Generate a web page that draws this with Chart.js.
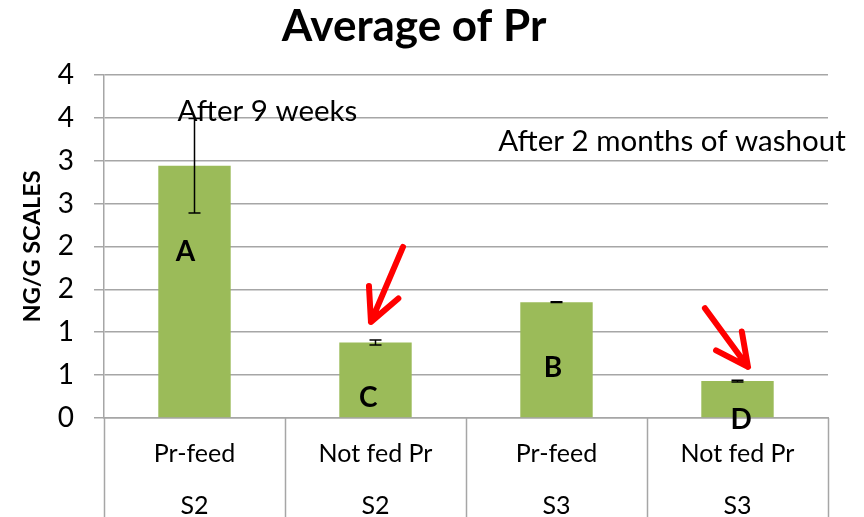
<!DOCTYPE html>
<html>
<head>
<meta charset="utf-8">
<script src="https://cdn.jsdelivr.net/npm/chart.js@4/dist/chart.umd.min.js"></script>
<style>
  html, body { margin: 0; padding: 0; background: #fff; }
</style>
</head>
<body>
<canvas id="c" width="864" height="517"></canvas>
<script>
/* ===== data ===== */
const treatments = ["Pr-feed", "Not fed Pr", "Pr-feed", "Not fed Pr"];
const groups = ["S2", "S2", "S3", "S3"];
const means = [2.94, 0.88, 1.35, 0.43];
const errors = [0.55, 0.03, 0.005, 0.01];
const letters = ["A", "C", "B", "D"];

/* ===== layout of the extra marks (category units / value units) ===== */
const LETTER_POS = [[-0.05, 1.94], [0.96, 0.23], [1.98, 0.58], [3.02, -0.02]];
const NOTES = [
  { text: "After 9 weeks", x: 0.403, y: 3.57 },
  { text: "After 2 months of washout", x: 2.638, y: 3.22 },
];
const ARROWS = [
  { from: [1.152, 1.994], to: [0.975, 1.12] },
  { from: [2.82, 1.28], to: [3.058, 0.595] },
];

const FONT = "Lato, 'Open Sans', sans-serif";
const GRID = "#A6A6A6";
const GREEN = "#9BBB59";

/* ===== extra drawing ===== */
const extras = {
  id: "extras",
  afterDraw(chart) {
    const { ctx, chartArea, scales: { x, y } } = chart;
    ctx.save();

    // category separators under the axis
    ctx.strokeStyle = GRID;
    ctx.lineWidth = 1.5;
    for (let i = 0; i <= treatments.length; i++) {
      const px = Math.round(x.getPixelForValue(i - 0.5)) + 0.5;
      ctx.beginPath();
      ctx.moveTo(px, chartArea.bottom);
      ctx.lineTo(px, chart.height);
      ctx.stroke();
    }

    // error bars
    ctx.strokeStyle = "#000";
    ctx.lineWidth = 1.5;
    means.forEach((m, i) => {
      const px = x.getPixelForValue(i);
      const top = y.getPixelForValue(m + errors[i]);
      const bot = y.getPixelForValue(m - errors[i]);
      ctx.beginPath();
      ctx.moveTo(px, top); ctx.lineTo(px, bot);
      ctx.moveTo(px - 6, top); ctx.lineTo(px + 6, top);
      ctx.moveTo(px - 6, bot); ctx.lineTo(px + 6, bot);
      ctx.stroke();
    });

    // significance letters
    ctx.fillStyle = "#000";
    ctx.textAlign = "center";
    ctx.textBaseline = "middle";
    ctx.font = "bold 28px " + FONT;
    letters.forEach((t, i) => {
      const [lx, ly] = LETTER_POS[i];
      ctx.fillText(t, x.getPixelForValue(lx), y.getPixelForValue(ly));
    });

    // notes
    ctx.font = "29.5px " + FONT;
    NOTES.forEach(n => ctx.fillText(n.text, x.getPixelForValue(n.x), y.getPixelForValue(n.y)));

    // red arrows
    ctx.strokeStyle = "#FF0000";
    ctx.lineWidth = 6;
    ctx.lineCap = "round";
    ctx.lineJoin = "round";
    ARROWS.forEach(a => {
      const x0 = x.getPixelForValue(a.from[0]), y0 = y.getPixelForValue(a.from[1]);
      const x1 = x.getPixelForValue(a.to[0]), y1 = y.getPixelForValue(a.to[1]);
      const ang = Math.atan2(y0 - y1, x0 - x1);
      const len = 36, spread = 0.46;
      ctx.beginPath();
      ctx.moveTo(x0, y0); ctx.lineTo(x1, y1);
      ctx.moveTo(x1 + len * Math.cos(ang - spread), y1 + len * Math.sin(ang - spread));
      ctx.lineTo(x1, y1);
      ctx.lineTo(x1 + len * Math.cos(ang + spread), y1 + len * Math.sin(ang + spread));
      ctx.stroke();
    });

    ctx.restore();
  },
};

new Chart(document.getElementById("c"), {
  type: "bar",
  data: {
    labels: treatments.map((t, i) => [t, groups[i]]),
    datasets: [{
      data: means,
      backgroundColor: GREEN,
      barPercentage: 0.4,
      categoryPercentage: 1,
    }],
  },
  options: {
    responsive: false,
    animation: false,
    devicePixelRatio: 1,
    layout: { padding: { top: 0, left: 0, right: 36, bottom: 0 } },
    plugins: {
      legend: { display: false },
      tooltip: { enabled: false },
      title: {
        display: true,
        text: "Average of Pr",
        color: "#000",
        font: { family: FONT, size: 44, weight: "bold" },
        padding: { top: 0, bottom: 22 },
      },
    },
    scales: {
      x: {
        grid: { display: false },
        border: { color: GRID, width: 1.5 },
        ticks: {
          color: "#000",
          font: { family: FONT, size: 25, lineHeight: 2.08 },
          padding: 2,
          maxRotation: 0,
        },
        afterFit(s) { s.height = 99; },
      },
      y: {
        min: 0,
        max: 4,
        ticks: {
          stepSize: 0.5,
          color: "#000",
          font: { family: FONT, size: 28 },
          padding: 20,
          callback: v => Math.round(v),
        },
        grid: { color: GRID, lineWidth: 1.5, tickLength: 10 },
        border: { color: GRID, width: 1.5 },
        title: {
          display: true,
          text: "NG/G SCALES",
          color: "#000",
          font: { family: FONT, size: 23.5, weight: "bold" },
          padding: { top: 18, bottom: 0 },
        },
        afterFit(s) { s.width = 104; },
      },
    },
  },
  plugins: [extras],
});
</script>
</body>
</html>
